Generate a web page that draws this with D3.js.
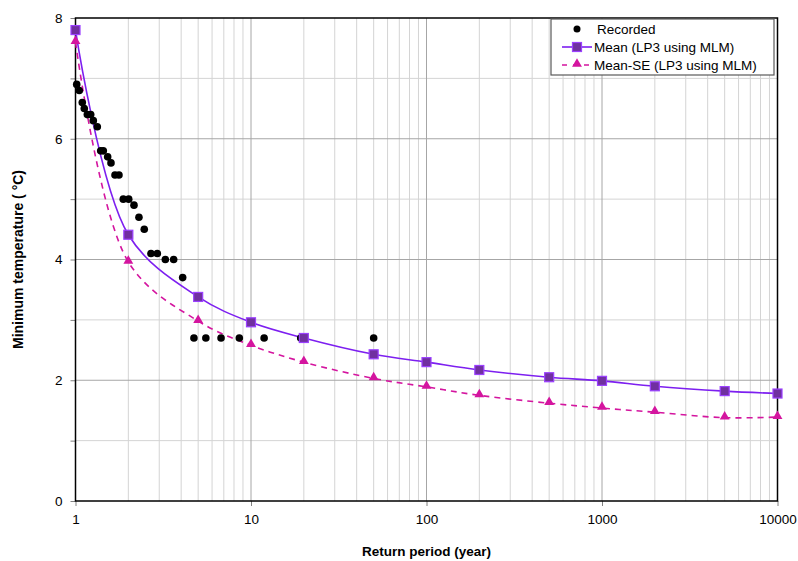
<!DOCTYPE html>
<html>
<head>
<meta charset="utf-8">
<script src="https://cdn.jsdelivr.net/npm/d3@7"></script>
<style>
  body { margin: 0; background: #fff; }
  svg text { font-family: "Liberation Sans", Arial, sans-serif; }
</style>
</head>
<body>
<svg id="chart" width="798" height="561"></svg>
<script>
// Return periods for the fitted curves
const periods = [1, 2, 5, 10, 20, 50, 100, 200, 500, 1000, 2000, 5000, 10000];
// Mean (LP3 using MLM)
const meanValues = [7.8, 4.41, 3.38, 2.96, 2.7, 2.43, 2.3, 2.17, 2.05, 1.99, 1.9, 1.82, 1.78];
// Mean-SE (LP3 using MLM)
const meanSeValues = [7.6, 3.96, 2.98, 2.58, 2.3, 2.03, 1.89, 1.75, 1.62, 1.54, 1.47, 1.38, 1.39];

// Recorded minimum temperatures with their plotting-position return periods
const recordedPeriods = [1.016, 1.051, 1.093, 1.122, 1.168, 1.221, 1.263, 1.331, 1.392, 1.44,
  1.525, 1.593, 1.679, 1.769, 1.872, 2.01, 2.154, 2.299, 2.465, 2.692, 2.925, 3.25, 3.625,
  4.08, 4.73, 5.53, 6.75, 8.58, 11.88, 19.2, 50];
const recordedValues = [6.9, 6.8, 6.6, 6.5, 6.4, 6.4, 6.3, 6.2, 5.8, 5.8,
  5.7, 5.6, 5.4, 5.4, 5.0, 5.0, 4.9, 4.7, 4.5, 4.1, 4.1, 4.0, 4.0,
  3.7, 2.7, 2.7, 2.7, 2.7, 2.7, 2.7, 2.7];

const xTicks = [1, 10, 100, 1000, 10000];
const yTicks = [0, 2, 4, 6, 8];
const yMinorTicks = [1, 3, 5, 7];

const margin = { top: 18, right: 20, bottom: 60, left: 75.5 };
const innerWidth = 777.5 - margin.left;
const innerHeight = 501 - margin.top;

const svg = d3.select('#chart');
const chart = svg.append('g')
  .attr('transform', `translate(${margin.left}, ${margin.top})`);

const xScale = d3.scaleLog().domain([1, 10000]).range([0, innerWidth]);
const yScale = d3.scaleLinear().domain([0, 8]).range([innerHeight, 0]);

// Minor vertical grid lines (2..9 in each decade)
const minorX = [];
for (let d = 1; d < 10000; d *= 10) {
  for (let k = 2; k <= 9; k++) minorX.push(d * k);
}
chart.append('g').selectAll('line')
  .data(minorX)
  .enter().append('line')
  .attr('x1', d => xScale(d)).attr('x2', d => xScale(d))
  .attr('y1', 0).attr('y2', innerHeight)
  .attr('stroke', '#d4d4d4').attr('stroke-width', 1);

chart.append('g').selectAll('line')
  .data(yMinorTicks)
  .enter().append('line')
  .attr('x1', 0).attr('x2', innerWidth)
  .attr('y1', d => yScale(d)).attr('y2', d => yScale(d))
  .attr('stroke', '#d4d4d4').attr('stroke-width', 1);

// Major grid
chart.append('g').selectAll('line')
  .data(xTicks.slice(1, -1))
  .enter().append('line')
  .attr('x1', d => xScale(d)).attr('x2', d => xScale(d))
  .attr('y1', 0).attr('y2', innerHeight)
  .attr('stroke', '#a6a6a6').attr('stroke-width', 1);

chart.append('g').selectAll('line')
  .data(yTicks.slice(1, -1))
  .enter().append('line')
  .attr('x1', 0).attr('x2', innerWidth)
  .attr('y1', d => yScale(d)).attr('y2', d => yScale(d))
  .attr('stroke', '#a6a6a6').attr('stroke-width', 1);

// Axes
const xAxis = chart.append('g')
  .attr('transform', `translate(0, ${innerHeight})`)
  .call(d3.axisBottom(xScale).tickValues(xTicks).tickFormat(d3.format('d')).tickSize(5).tickPadding(8));
const yAxis = chart.append('g')
  .call(d3.axisLeft(yScale).tickValues(yTicks).tickSize(5).tickPadding(8));
const yMinorAxis = chart.append('g')
  .call(d3.axisLeft(yScale).tickValues(yMinorTicks).tickFormat(() => null).tickSize(5));

[xAxis, yAxis, yMinorAxis].forEach(ax => {
  ax.select('.domain').remove();
  ax.selectAll('.tick line').attr('stroke', '#808080');
  ax.selectAll('text').style('font-size', '13.5px').attr('fill', '#000');
});
yMinorAxis.selectAll('text').remove();

// Plot border
chart.append('rect')
  .attr('x', 0).attr('y', 0)
  .attr('width', innerWidth).attr('height', innerHeight)
  .attr('fill', 'none').attr('stroke', '#000').attr('stroke-width', 1.5);

// Curves
const meanColor = '#7d1ff0';
const seColor = '#d4159f';
const line = d3.line()
  .x(d => xScale(d[0]))
  .y(d => yScale(d[1]))
  .curve(d3.curveCatmullRom.alpha(0.5));

const meanData = periods.map((p, i) => [p, meanValues[i]]);
const seData = periods.map((p, i) => [p, meanSeValues[i]]);

chart.append('path')
  .datum(seData)
  .attr('d', line)
  .attr('fill', 'none')
  .attr('stroke', seColor)
  .attr('stroke-width', 1.6)
  .attr('stroke-dasharray', '6,5');

chart.append('path')
  .datum(meanData)
  .attr('d', line)
  .attr('fill', 'none')
  .attr('stroke', meanColor)
  .attr('stroke-width', 1.6);

// Recorded points
chart.append('g').selectAll('circle')
  .data(recordedPeriods.map((p, i) => [p, recordedValues[i]]))
  .enter().append('circle')
  .attr('cx', d => xScale(d[0]))
  .attr('cy', d => yScale(d[1]))
  .attr('r', 3.8)
  .attr('fill', '#000');

// Markers
const triangle = d3.symbol().type(d3.symbolTriangle).size(42);
chart.append('g').selectAll('path')
  .data(seData)
  .enter().append('path')
  .attr('d', triangle)
  .attr('transform', d => `translate(${xScale(d[0])}, ${yScale(d[1]) - 1})`)
  .attr('fill', seColor);

chart.append('g').selectAll('rect')
  .data(meanData)
  .enter().append('rect')
  .attr('x', d => xScale(d[0]) - 4.5)
  .attr('y', d => yScale(d[1]) - 4.5)
  .attr('width', 9).attr('height', 9)
  .attr('fill', '#7030a0')
  .attr('stroke', '#9b40ff')
  .attr('stroke-width', 1.2);

// Axis titles
svg.append('text')
  .attr('x', margin.left + innerWidth / 2)
  .attr('y', 556)
  .attr('text-anchor', 'middle')
  .style('font-size', '13.5px')
  .style('font-weight', 'bold')
  .text('Return period (year)');

svg.append('text')
  .attr('transform', `translate(23, ${margin.top + innerHeight / 2}) rotate(-90)`)
  .attr('text-anchor', 'middle')
  .style('font-size', '14px')
  .style('font-weight', 'bold')
  .text('Minimum temperature ( °C)');

// Legend
const legend = svg.append('g').attr('transform', 'translate(551, 19)');
legend.append('rect')
  .attr('width', 223).attr('height', 56)
  .attr('fill', '#fff')
  .attr('stroke', '#595959').attr('stroke-width', 1.2);

const legendItems = ['Recorded', 'Mean (LP3 using MLM)', 'Mean-SE (LP3 using MLM)'];
const rowY = [10, 28, 46];

legend.append('circle').attr('cx', 26).attr('cy', rowY[0]).attr('r', 3.5).attr('fill', '#000');

legend.append('line')
  .attr('x1', 11).attr('x2', 41).attr('y1', rowY[1]).attr('y2', rowY[1])
  .attr('stroke', meanColor).attr('stroke-width', 1.6);
legend.append('rect')
  .attr('x', 21.5).attr('y', rowY[1] - 4.5).attr('width', 9).attr('height', 9)
  .attr('fill', '#7030a0').attr('stroke', '#9b40ff').attr('stroke-width', 1.2);

legend.append('line')
  .attr('x1', 11).attr('x2', 41).attr('y1', rowY[2]).attr('y2', rowY[2])
  .attr('stroke', seColor).attr('stroke-width', 1.6).attr('stroke-dasharray', '5,6');
legend.append('path')
  .attr('d', triangle)
  .attr('transform', `translate(26, ${rowY[2] - 1})`)
  .attr('fill', seColor);

legend.selectAll('.legend-label')
  .data(legendItems)
  .enter().append('text')
  .attr('class', 'legend-label')
  .attr('x', (d, i) => i === 0 ? 46 : 43)
  .attr('y', (d, i) => rowY[i] + 5)
  .style('font-size', '13.5px')
  .text(d => d);
</script>
</body>
</html>
